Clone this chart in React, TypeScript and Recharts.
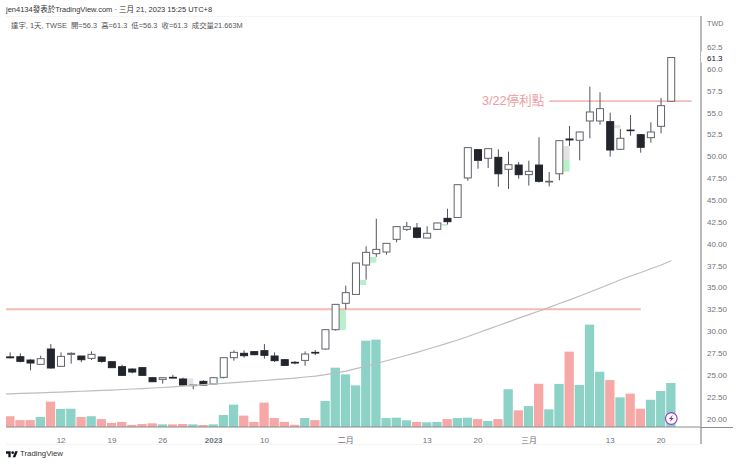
import { Bar, ComposedChart, Line, ReferenceArea, ReferenceDot, ReferenceLine, XAxis, YAxis } from "recharts";

const FONT = '"Liberation Sans", "Noto Sans CJK TC", sans-serif';
const UP_VOL = "#8dd2c6";
const DOWN_VOL = "#f6a8a6";
const GHOST_GREEN = "#b7f0ca";
const GHOST_GRAY = "#e3e3e3";
const PINK_LINE = "#f7bab5";

// Dec 2 only carries the average, the last two rows are empty space right of the last candle
const dates = [
  "12/02", "12/05", "12/06", "12/07", "12/08", "12/09", "12/12", "12/13", "12/14", "12/15", "12/16",
  "12/19", "12/20", "12/21", "12/22", "12/23", "12/26", "12/27", "12/28", "12/29", "12/30",
  "01/03", "01/04", "01/05", "01/06", "01/09", "01/10", "01/11", "01/12", "01/13", "01/16", "01/17",
  "01/30", "01/31", "02/01", "02/02", "02/03", "02/06", "02/07", "02/08", "02/09", "02/10",
  "02/13", "02/14", "02/15", "02/16", "02/17", "02/20", "02/21", "02/22", "02/23", "02/24",
  "03/01", "03/02", "03/03", "03/06", "03/07", "03/08", "03/09", "03/10",
  "03/13", "03/14", "03/15", "03/16", "03/17", "03/20", "03/21", "03/22", "03/23",
];

const opens = [
  27.05, 27.07, 26.69, 26.2, 27.95, 25.97, 27.34, 27.15, 26.88, 27.04, 26.5,
  25.93, 25.66, 25.82, 24.67, 24.48, 24.71, 24.52, 23.76, 24.25, 23.95,
  24.71, 26.96, 27.46, 27.65, 27.76, 27.15, 26.73, 26.43, 26.65, 27.57, 27.95,
  30.16, 33.18, 34.2, 37.56, 38.86, 39.05, 40.5, 41.64, 41.8, 40.65,
  41.64, 42.9, 43.0, 47.52, 50.76, 49.77, 49.88, 48.51, 49.0, 47.9,
  49.0, 47.06, 48.0, 51.98, 51.83, 54.04, 54.04, 53.96, 50.8, 53.0,
  52.47, 52.13, 53.43, 56.3,
];
const highs = [
  27.57, 27.46, 26.77, 27.19, 28.52, 27.57, 27.57, 27.15, 27.68, 27.07, 26.54,
  26.16, 25.74, 25.85, 24.71, 24.71, 25.0, 24.67, 23.83, 24.37, 24.71,
  27.0, 27.8, 27.8, 27.7, 28.52, 27.57, 26.81, 26.58, 27.68, 27.84, 30.2,
  33.1, 35.2, 37.79, 39.7, 42.86, 40.04, 41.99, 42.5, 42.37, 41.99,
  42.41, 44.0, 46.79, 51.03, 50.84, 50.91, 50.8, 50.53, 49.35, 49.5,
  52.17, 48.2, 51.83, 53.47, 52.82, 57.97, 57.32, 54.99, 53.13, 54.72,
  52.55, 53.89, 56.67, 61.3,
];
const lows = [
  26.88, 26.43, 25.51, 26.2, 25.7, 25.93, 26.27, 26.46, 26.69, 26.39, 25.78,
  24.9, 25.17, 24.94, 24.18, 23.99, 24.6, 23.79, 23.34, 23.79, 23.91,
  24.6, 26.62, 26.96, 27.25, 26.85, 26.46, 26.04, 26.2, 26.04, 27.26, 27.87,
  30.05, 32.49, 34.2, 35.88, 38.5, 38.75, 40.16, 41.45, 40.61, 40.65,
  41.6, 42.2, 42.97, 47.21, 48.58, 48.66, 46.52, 46.26, 47.44, 46.64,
  46.98, 46.56, 47.25, 51.18, 49.54, 52.06, 53.62, 49.96, 50.72, 52.36,
  50.41, 51.56, 52.63, 56.3,
];
const closes = [
  26.95, 26.54, 26.35, 26.85, 25.78, 27.11, 27.46, 26.73, 27.34, 26.54, 25.82,
  24.94, 25.32, 24.94, 24.21, 24.67, 24.63, 23.83, 23.83, 23.83, 24.67,
  26.96, 27.57, 27.19, 27.3, 27.23, 26.62, 26.08, 26.35, 27.38, 27.49, 30.16,
  33.06, 34.4, 37.79, 39.01, 39.35, 40.04, 41.95, 41.95, 40.73, 41.19,
  42.37, 42.52, 46.75, 50.99, 49.54, 50.87, 48.0, 49.04, 47.9, 48.28,
  47.14, 47.14, 51.79, 51.87, 52.78, 55.07, 55.45, 50.72, 52.06, 52.93,
  51.03, 52.78, 55.79, 61.3,
];
// millions of shares
const volumes = [
  5.3, 3.4, 3.4, 4.9, 12.5, 8.9, 9, 4.9, 5.3, 3.9, 2,
  2.5, 1, 1.5, 1.8, 1.3, 1.3, 1.5, 1.3, 1, 1.3,
  5.9, 11, 5.6, 2.5, 12, 4.4, 2.5, 1.1, 4.4, 3.4, 12.8,
  29.2, 25.9, 20.5, 42.5, 43, 4.4, 4.6, 3.3, 2.5, 2.3,
  2.5, 3.9, 4.4, 4.6, 3.9, 3, 3.9, 18.6, 8.2, 10.3,
  21.3, 8.7, 21.2, 37.1, 20.7, 50.4, 27.2, 23.1, 14.6, 16.4,
  9, 13.4, 17.7, 21.663,
];
const average = [
  22.78, 22.83, 22.87, 22.91, 22.94, 22.99, 23.03, 23.08, 23.12, 23.17, 23.22, 23.26,
  23.32, 23.38, 23.43, 23.49, 23.55, 23.63, 23.71, 23.79, 23.87, 23.95,
  24.03, 24.11, 24.19, 24.27, 24.35, 24.44, 24.53, 24.63, 24.75, 24.86, 25.03,
  25.23, 25.43, 25.7, 25.98, 26.29, 26.61, 26.92, 27.24, 27.57, 27.92,
  28.27, 28.62, 28.98, 29.38, 29.81, 30.22, 30.64, 31.06, 31.48, 31.89,
  32.3, 32.72, 33.16, 33.58, 34.02, 34.47, 34.93, 35.39, 35.87, 36.3,
  36.7, 37.13, 37.56, 38.05,
];

const timeTicks = ["12/12", "12/19", "12/26", "01/03", "01/10", "02/01", "02/13", "02/20", "03/01", "03/13", "03/20"];
const timeLabels = ["12", "19", "26", "2023", "10", "二月", "13", "20", "三月", "13", "20"];
const priceTicks = [20, 22.5, 25, 27.5, 30, 32.5, 35, 37.5, 40, 42.5, 45, 47.5, 50, 52.5, 55, 57.5, 60, 61.3, 62.5];

// pale patches just left of some candles: date, low, high, colour
const ghosts: [string, number, number, string][] = [
  ["12/29", 23.83, 24.6, GHOST_GRAY],
  ["01/04", 24.52, 24.6, GHOST_GREEN],
  ["02/01", 30.13, 32.53, GHOST_GREEN],
  ["02/03", 35.27, 35.85, GHOST_GREEN],
  ["02/06", 37.83, 38.48, GHOST_GREEN],
  ["02/15", 42.06, 42.25, GHOST_GREEN],
  ["03/07", 49.58, 51.18, GHOST_GRAY],
  ["03/07", 48.24, 49.58, GHOST_GREEN],
  ["03/14", 53.2, 53.58, GHOST_GRAY],
];

const rows = dates.map((date, i) => ({
  date,
  open: opens[i - 1] ?? null,
  high: highs[i - 1] ?? null,
  low: lows[i - 1] ?? null,
  close: closes[i - 1] ?? null,
  volume: volumes[i - 1] ?? null,
  average: average[i] ?? null,
}));

function Candle(props: any) {
  const { x, y, width, height, payload } = props;
  if (payload?.open == null) return null;
  const { open, high, low, close } = payload;
  const perUnit = height / (high - low);
  const up = close >= open;
  const top = y + (high - Math.max(open, close)) * perUnit;
  const bodyHeight = Math.abs(close - open) * perUnit;
  const mid = x + width / 2;
  return (
    <g>
      <line stroke="#50535a" strokeWidth={1} x1={mid} x2={mid} y1={y} y2={y + height} />
      <rect
        fill={up ? "#fff" : "#22252c"}
        height={bodyHeight}
        stroke={up ? "#60636a" : "#22252c"}
        strokeWidth={1}
        width={width - 1}
        x={x + 0.5}
        y={top}
      />
    </g>
  );
}

function VolumeBar(props: any) {
  const { x, y, width, height, payload } = props;
  if (payload?.volume == null) return null;
  return <rect fill={payload.close >= payload.open ? UP_VOL : DOWN_VOL} height={height} width={width} x={x} y={y} />;
}

// only the left half of the day's band, the candle sits on the rest
function GhostPatch({ x, y, width, height, fill }: any) {
  return <rect fill={fill} height={height} width={width / 2 + 1} x={x - 1} y={y} />;
}

function PriceTick({ x, y, payload }: any) {
  const value = payload.value as number;
  const last = value === 61.3;
  const label = value >= 52.5 ? value.toFixed(1) : value.toFixed(2);
  return (
    <g>
      {last && <rect fill="#fff" height={11} width={34} x={x - 6} y={y - 6} />}
      <text dy={3} fill={last ? "#131722" : "#6f727a"} fontFamily={FONT} fontSize={8} x={x} y={y}>
        {label}
      </text>
    </g>
  );
}

function TimeTick({ x, y, payload }: any) {
  const label = timeLabels[timeTicks.indexOf(payload.value)];
  return (
    <text
      dy={8}
      fill="#6f727a"
      fontFamily={FONT}
      fontSize={8}
      fontWeight={label === "2023" ? 700 : 400}
      textAnchor="middle"
      x={x}
      y={y}
    >
      {label}
    </text>
  );
}

function AlertDot({ cx, cy }: any) {
  return (
    <g>
      <circle cx={cx} cy={cy} fill="#fff" r={5.8} stroke="#9c3fc4" strokeWidth={1.2} />
      <path d={`M${cx + 1.5} ${cy - 3.4}L${cx - 2.4} ${cy + 0.6}H${cx - 0.2}L${cx - 1.5} ${cy + 3.4}L${cx + 2.4} ${cy - 0.6}H${cx + 0.2}Z`} fill="#7a2fa8" />
    </g>
  );
}

const textAt = (left: number, top: number, size: number, color: string): React.CSSProperties => ({
  position: "absolute",
  left,
  top,
  fontSize: size,
  lineHeight: 1,
  color,
  fontFamily: FONT,
  whiteSpace: "pre",
});
const rule = (left: number, top: number, width: number, height: number, background: string): React.CSSProperties => ({
  position: "absolute",
  left,
  top,
  width,
  height,
  background,
});

export default function App() {
  return (
    <div style={{ position: "absolute", left: 0, top: 0, width: 740, height: 465, overflow: "hidden", background: "#fff" }}>
      <div style={rule(6, 16, 695, 1, "#f5f5f5")} />
      <div style={rule(6, 444, 695, 1, "#f5f5f5")} />
      <div style={rule(700, 427, 2, 17, "#b9b9b9")} />
      <div style={rule(701, 427, 32, 1, "#8c8c8c")} />

      <div style={{ position: "absolute", left: 6, top: 0, width: 734, height: 465, overflow: "hidden" }}>
        <div style={{ position: "absolute", left: -10.755, top: 0 }}>
          <ComposedChart data={rows} height={465} margin={{ top: 16, right: 0, bottom: 18, left: 0 }} width={745}>
            <XAxis
              axisLine={{ stroke: "#8c8c8c" }}
              dataKey="date"
              height={20}
              interval={0}
              padding={{ left: 0, right: 4.27 }}
              scale="band"
              tick={<TimeTick />}
              tickLine={false}
              ticks={timeTicks}
              xAxisId="price"
            />
            <XAxis dataKey="date" hide padding={{ left: 0, right: 4.27 }} scale="band" xAxisId="vol" />
            <YAxis
              axisLine={{ stroke: "#b9b9b9", strokeWidth: 2 }}
              domain={[19.03, 66.05]}
              interval={0}
              orientation="right"
              tick={<PriceTick />}
              tickLine={false}
              tickMargin={0}
              ticks={priceTicks}
              type="number"
              width={39}
              yAxisId="price"
            />
            <YAxis domain={[0, 202.3]} hide type="number" yAxisId="vol" />

            {ghosts.map(([date, low, high, color]) => (
              <ReferenceArea
                fill={color}
                fillOpacity={1}
                key={`${date}-${low}`}
                shape={<GhostPatch />}
                stroke="none"
                x1={date}
                x2={date}
                xAxisId="price"
                y1={low}
                y2={high}
                yAxisId="price"
              />
            ))}
            <ReferenceLine
              segment={[{ x: "12/02", y: 32.5 }, { x: "03/16", y: 32.5 }]}
              stroke={PINK_LINE}
              strokeWidth={2}
              xAxisId="price"
              yAxisId="price"
              zIndex={100}
            />
            <ReferenceLine
              segment={[{ x: "03/03", y: 56.3 }, { x: "03/23", y: 56.3 }]}
              stroke="#f0a0a0"
              strokeWidth={1.2}
              xAxisId="price"
              yAxisId="price"
              zIndex={100}
            />

            <Bar barSize={9.3} dataKey="volume" isAnimationActive={false} shape={<VolumeBar />} xAxisId="vol" yAxisId="vol" />
            <Line
              dataKey="average"
              dot={false}
              isAnimationActive={false}
              stroke="#bdbdbd"
              strokeWidth={1.2}
              type="linear"
              xAxisId="price"
              yAxisId="price"
            />
            <Bar
              barSize={8}
              dataKey={(d: any) => (d.low == null ? null : [d.low, d.high])}
              isAnimationActive={false}
              shape={<Candle />}
              xAxisId="price"
              yAxisId="price"
            />

            <ReferenceDot shape={<AlertDot />} x="03/21" xAxisId="price" y={20} yAxisId="price" />
          </ComposedChart>
        </div>
      </div>

      <div style={textAt(6, 6, 7.5, "#333")}>jen4134發表於TradingView.com · 三月 21, 2023 15:25 UTC+8</div>
      <div style={textAt(11, 22, 7.4, "#555")}>{"達宇, 1天, TWSE  開=56.3  高=61.3  低=56.3  收=61.3  成交量21.663M"}</div>
      <div style={textAt(707, 20, 7.2, "#6f727a")}>TWD</div>
      <div style={textAt(482, 95, 12.6, "#ef9aa0")}>3/22停利點</div>

      <svg height={8} style={{ position: "absolute", left: 6, top: 450 }} viewBox="0 0 36 24" width={12}>
        <path d="M14 22H7V11H0V4h14v18zM28 22h-8l7.5-18h8L28 22z" fill="#131722" />
        <circle cx={20} cy={8} fill="#131722" r={4} />
      </svg>
      <div style={textAt(20, 450, 7.8, "#333")}>TradingView</div>
    </div>
  );
}
